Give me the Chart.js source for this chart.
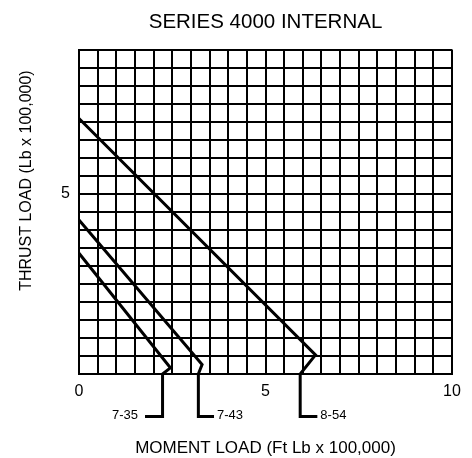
<!DOCTYPE html>
<html>
<head>
<meta charset="utf-8">
<script src="https://cdn.jsdelivr.net/npm/chart.js@4"></script>
<style>
  body { margin: 0; background: #fff; }
</style>
</head>
<body>
<canvas id="chartCanvas" width="472" height="458"></canvas>
<script>
// rating curves, one per bearing size
const ratings = ['7-35', '7-43', '8-54']
// thrust at zero moment, the knee near the bottom, and where each curve meets the axis
const thrustAtZero = [3.35, 4.27, 7.09]
const kneeMoment = [2.45, 3.3, 6.34]
const kneeThrust = [0.17, 0.26, 0.53]
const baseMoment = [2.24, 3.2, 5.93]
// callout leg under the axis and where its short stub ends
const calloutDepth = -1.18
const calloutEnd = [1.77, 3.62, 6.39]

// tick labels that get printed, the rest of the grid stays blank
const xTickLabels = [0, 5, 10]
const yTickLabels = [5]

const fontFamily = '"Liberation Sans", Arial, Helvetica, sans-serif'

let datasets = ratings.map((name, i) => ({
  label: name,
  data: [
    { x: 0, y: thrustAtZero[i] },
    { x: kneeMoment[i], y: kneeThrust[i] },
    { x: baseMoment[i], y: 0 },
    { x: baseMoment[i], y: calloutDepth },
    { x: calloutEnd[i], y: calloutDepth }
  ],
  borderColor: '#000',
  borderWidth: 3,
  borderJoinStyle: 'miter',
  pointRadius: 0,
  tension: 0,
  clip: false
}))

// writes the size next to each callout stub, plus the thrust axis title
const calloutLabels = {
  id: 'calloutLabels',
  afterDatasetsDraw(chart) {
    const ctx = chart.ctx
    ctx.save()
    ctx.fillStyle = '#000'
    ctx.textBaseline = 'middle'
    ctx.font = '13px ' + fontFamily
    chart.data.datasets.forEach((ds, i) => {
      const pts = chart.getDatasetMeta(i).data
      const end = pts[pts.length - 1]
      const prev = pts[pts.length - 2]
      const leftward = end.x < prev.x
      ctx.textAlign = leftward ? 'right' : 'left'
      ctx.fillText(ds.label, end.x + (leftward ? -7 : 3), end.y - 1)
    })

    const area = chart.chartArea
    ctx.translate(area.left - 52, area.top + 131)
    ctx.rotate(-Math.PI / 2)
    ctx.textAlign = 'center'
    ctx.font = '16px ' + fontFamily
    ctx.fillText('THRUST LOAD (Lb x 100,000)', 0, 0)
    ctx.restore()
  }
}

chart = new Chart(document.getElementById('chartCanvas'), {
  type: 'line',
  data: { datasets: datasets },
  plugins: [calloutLabels],
  options: {
    responsive: false,
    animation: false,
    layout: { padding: { left: 0, right: 20, top: 0, bottom: 0 } },
    plugins: {
      legend: { display: false },
      tooltip: { enabled: false },
      title: {
        display: true,
        // centred over the grid, not the whole canvas
        fullSize: false,
        text: 'SERIES 4000 INTERNAL',
        color: '#000',
        font: { family: fontFamily, size: 20.5, weight: 'normal' },
        padding: { top: 10, bottom: 15 }
      }
    },
    scales: {
      x: {
        type: 'linear',
        min: 0,
        max: 10,
        afterFit: (scale) => { scale.height = 84 },
        ticks: {
          stepSize: 0.5,
          autoSkip: false,
          maxRotation: 0,
          padding: 8,
          color: '#000',
          font: { family: fontFamily, size: 16 },
          callback: (v) => xTickLabels.includes(v) ? String(v) : ''
        },
        grid: { color: '#000', lineWidth: 2, drawTicks: false },
        border: { color: '#000', width: 2 },
        title: {
          display: true,
          text: 'MOMENT LOAD (Ft Lb x 100,000)',
          color: '#000',
          font: { family: fontFamily, size: 17, lineHeight: 1 },
          padding: { top: 0, bottom: 1 }
        }
      },
      y: {
        type: 'linear',
        min: 0,
        max: 9,
        afterFit: (scale) => { scale.width = 79 },
        ticks: {
          stepSize: 0.5,
          autoSkip: false,
          padding: 9,
          color: '#000',
          font: { family: fontFamily, size: 16 },
          callback: (v) => yTickLabels.includes(v) ? String(v) : ''
        },
        grid: { color: '#000', lineWidth: 2, drawTicks: false },
        border: { color: '#000', width: 2 }
      }
    }
  }
})
</script>
</body>
</html>
